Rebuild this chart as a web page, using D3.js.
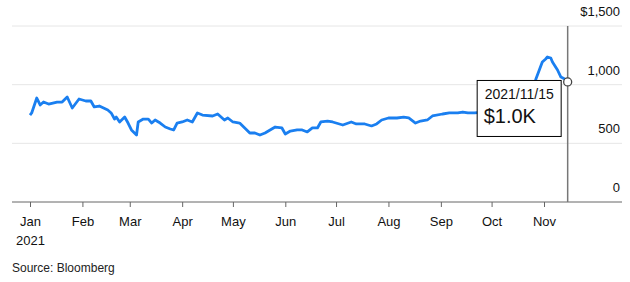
<!DOCTYPE html>
<html>
<head>
<meta charset="utf-8">
<script src="https://cdn.jsdelivr.net/npm/d3@7"></script>
<style>
  body { margin: 0; background: #fff; }
  svg { font-family: "Liberation Sans", Arial, sans-serif; }
</style>
</head>
<body>
<div id="chart"></div>
<script>
// price series
const dates = [
  '2021-01-01','2021-01-02','2021-01-05','2021-01-07','2021-01-09','2021-01-12','2021-01-17','2021-01-20',
  '2021-01-23','2021-01-26','2021-01-30','2021-02-03','2021-02-06','2021-02-08','2021-02-11','2021-02-16',
  '2021-02-18','2021-02-20','2021-02-21','2021-02-23','2021-02-26','2021-02-28','2021-03-02','2021-03-05',
  '2021-03-06','2021-03-09','2021-03-12','2021-03-14','2021-03-16','2021-03-19','2021-03-22','2021-03-25',
  '2021-03-27','2021-03-29','2021-04-01','2021-04-04','2021-04-07','2021-04-10','2021-04-13','2021-04-19',
  '2021-04-22','2021-04-26','2021-04-28','2021-05-01','2021-05-05','2021-05-08','2021-05-11','2021-05-14',
  '2021-05-17','2021-05-20','2021-05-26','2021-05-30','2021-06-01','2021-06-04','2021-06-08','2021-06-11',
  '2021-06-14','2021-06-17','2021-06-20','2021-06-22','2021-06-26','2021-06-29','2021-07-05','2021-07-10',
  '2021-07-13','2021-07-18','2021-07-22','2021-07-25','2021-07-28','2021-08-01','2021-08-06','2021-08-10',
  '2021-08-13','2021-08-17','2021-08-20','2021-08-24','2021-08-27','2021-09-02','2021-09-06','2021-09-11',
  '2021-09-14','2021-09-17','2021-09-21','2021-09-27','2021-10-03','2021-10-09','2021-10-15','2021-10-21',
  '2021-10-25','2021-10-27','2021-10-31','2021-11-02','2021-11-03','2021-11-05','2021-11-06','2021-11-09',
  '2021-11-11','2021-11-13','2021-11-15'
];
const prices = [
  741, 759, 886, 827, 852, 835, 852, 852,
  895, 801, 878, 861, 861, 810, 818, 784,
  759, 707, 724, 682, 724, 673, 614, 571,
  682, 707, 707, 673, 699, 673, 639, 622,
  614, 673, 682, 699, 682, 759, 741, 733,
  750, 699, 716, 682, 673, 631, 588, 588,
  571, 588, 639, 631, 580, 605, 614, 614,
  597, 631, 631, 682, 690, 682, 656, 682,
  665, 665, 648, 665, 699, 716, 716, 724,
  716, 673, 690, 699, 733, 750, 759, 759,
  767, 759, 759, 767, 784, 776, 793, 844,
  972, 1040, 1193, 1219, 1236, 1227, 1193, 1125,
  1065, 1050, 1023
];
const yTicks = [0, 500, 1000, 1500];
const monthLabels = ['Jan', 'Feb', 'Mar', 'Apr', 'May', 'Jun', 'Jul', 'Aug', 'Sep', 'Oct', 'Nov'];

const width = 630, height = 282;
const gridLeft = 12, gridRight = 622;
const parse = d3.timeParse('%Y-%m-%d');
const data = dates.map((d, i) => ({ date: parse(d), value: prices[i] }));

const svg = d3.select('#chart').append('svg')
  .attr('width', width)
  .attr('height', height);

const x = d3.scaleTime()
  .domain([new Date(2021, 0, 1), new Date(2021, 10, 1)])
  .range([30, 544]);
const y = d3.scaleLinear()
  .domain([0, 1500])
  .range([202, 26]);

// grid + right labels
svg.append('g').selectAll('line')
  .data(yTicks.filter(d => d > 0))
  .join('line')
  .attr('x1', gridLeft).attr('x2', gridRight)
  .attr('y1', d => y(d)).attr('y2', d => y(d))
  .attr('stroke', '#e6e6e6').attr('stroke-width', 1);

svg.append('g').selectAll('text')
  .data(yTicks)
  .join('text')
  .attr('x', 620)
  .attr('y', d => y(d) - 10)
  .attr('text-anchor', 'end')
  .attr('font-size', 13)
  .attr('fill', '#111')
  .text(d => d === 1500 ? '$1,500' : d3.format(',')(d));

// x axis
const xAxis = svg.append('g')
  .attr('transform', `translate(0,${y(0)})`)
  .call(d3.axisBottom(x)
    .ticks(d3.timeMonth.every(1))
    .tickSize(5)
    .tickFormat((d, i) => monthLabels[i]));
xAxis.select('.domain').remove();
xAxis.selectAll('.tick line').attr('stroke', '#666');
xAxis.selectAll('.tick text')
  .attr('font-family', 'Liberation Sans, Arial, sans-serif')
  .attr('font-size', 13)
  .attr('fill', '#111')
  .attr('dy', 0)
  .attr('y', 24);
xAxis.insert('line', ':first-child')
  .attr('x1', gridLeft).attr('x2', gridRight)
  .attr('stroke', '#666').attr('stroke-width', 1);
xAxis.select('.tick text')
  .append('tspan')
  .attr('x', 0).attr('dy', 19)
  .text('2021');

// the line
const line = d3.line()
  .x(d => x(d.date))
  .y(d => y(d.value));

svg.append('path')
  .datum(data)
  .attr('fill', 'none')
  .attr('stroke', '#1a7ff0')
  .attr('stroke-width', 2.8)
  .attr('stroke-linejoin', 'round')
  .attr('d', line);

// hover marker on last point
const last = data[data.length - 1];
const lx = x(last.date), ly = y(last.value);

svg.append('line')
  .attr('x1', lx).attr('x2', lx)
  .attr('y1', y(1500)).attr('y2', y(0))
  .attr('stroke', '#777').attr('stroke-width', 1.5);

svg.append('circle')
  .attr('cx', lx).attr('cy', ly).attr('r', 4)
  .attr('fill', '#fff')
  .attr('stroke', '#444').attr('stroke-width', 1.3);

const tip = svg.append('g')
  .attr('transform', `translate(${lx - 91},${ly - 2})`);
tip.append('rect')
  .attr('x', 0.5).attr('y', 0.5)
  .attr('width', 84).attr('height', 56)
  .attr('fill', '#fff')
  .attr('stroke', '#000').attr('stroke-width', 1);
tip.append('text')
  .attr('x', 8).attr('y', 19)
  .attr('font-size', 14)
  .attr('fill', '#111')
  .text(d3.timeFormat('%Y/%m/%d')(last.date));
tip.append('text')
  .attr('x', 7).attr('y', 43)
  .attr('font-size', 20)
  .attr('fill', '#111')
  .text('$' + (last.value / 1000).toFixed(1) + 'K');

svg.append('text')
  .attr('x', 12).attr('y', 272)
  .attr('font-size', 12)
  .attr('fill', '#222')
  .text('Source: Bloomberg');
</script>
</body>
</html>
